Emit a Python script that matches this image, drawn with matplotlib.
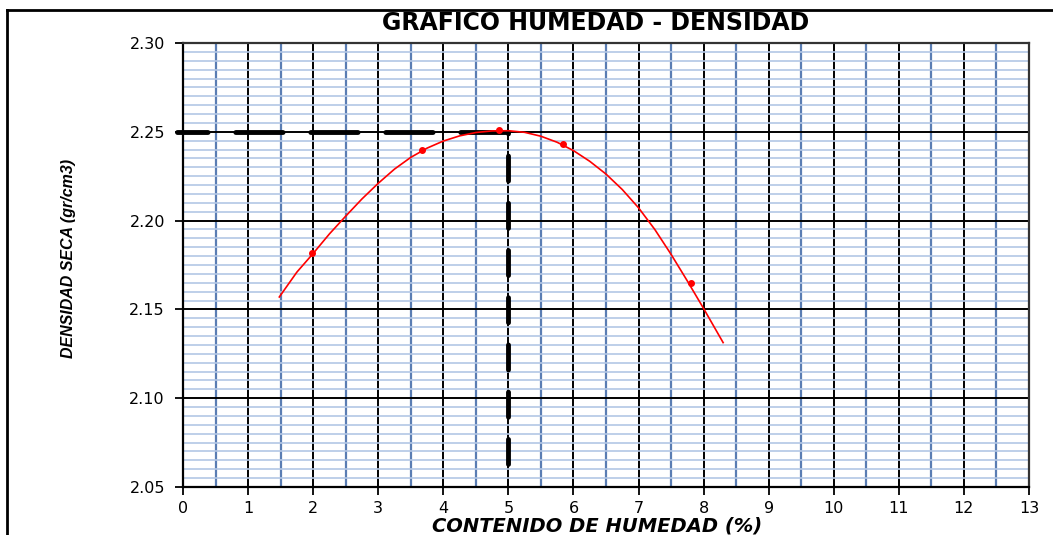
import matplotlib
matplotlib.use("Agg")
import matplotlib.pyplot as plt
from matplotlib.lines import Line2D
import numpy as np

# ensayo proctor: puntos medidos
humedad = [1.98, 3.67, 4.85, 5.84, 7.80]
densidad = [2.182, 2.240, 2.251, 2.243, 2.165]

# curva de ajuste
curva_x = [1.48, 1.75, 2.0, 2.25, 2.5, 2.75, 3.0, 3.25, 3.5, 3.75, 4.0, 4.25, 4.5, 4.75,
           5.0, 5.25, 5.5, 5.75, 6.0, 6.25, 6.5, 6.75, 7.0, 7.25, 7.5, 7.75, 8.0, 8.3]
curva_y = [2.1570, 2.1710, 2.1815, 2.1925, 2.2025, 2.2122, 2.2210, 2.2290, 2.2356, 2.2408,
           2.2448, 2.2477, 2.2496, 2.2505, 2.2506, 2.2497, 2.2475, 2.2441, 2.2394, 2.2334,
           2.2262, 2.2175, 2.2072, 2.1950, 2.1810, 2.1660, 2.1505, 2.1313]

dens_max = 2.25
hum_opt = 5.0

x_ticks = list(range(0, 14))
y_ticks = [2.05, 2.10, 2.15, 2.20, 2.25, 2.30]

plt.rcParams["font.family"] = ["DejaVu Sans"]
plt.rcParams["lines.scale_dashes"] = False

fig = plt.figure(figsize=(10.53, 5.35), dpi=100)
ax = fig.add_axes([183 / 1053, 48 / 535, 846 / 1053, 444 / 535])

# marco exterior
fig.add_artist(Line2D([7 / 1053, 1.0], [1 - 10 / 535, 1 - 10 / 535], transform=fig.transFigure,
                      color="black", lw=2))
fig.add_artist(Line2D([7 / 1053, 7 / 1053], [0.0, 1 - 10 / 535], transform=fig.transFigure,
                      color="black", lw=2))

ax.set_xlim(0, 13)
ax.set_ylim(2.05, 2.30)
ax.set_xticks(x_ticks)
ax.set_yticks(y_ticks)
ax.set_yticklabels(["%.2f" % v for v in y_ticks])
ax.set_xticks(np.arange(0.5, 13, 1.0), minor=True)
ax.set_yticks(np.arange(2.05, 2.3001, 0.005), minor=True)

ax.grid(which="minor", axis="y", color="#b3c7e5", lw=1.2, zorder=0)
ax.grid(which="minor", axis="x", color="#5a7db3", lw=1.6, zorder=0)
ax.grid(which="major", color="black", lw=1.4, zorder=1)
ax.set_axisbelow(True)

ax.tick_params(which="major", direction="out", length=6, width=1.3, labelsize=11.5)
ax.tick_params(axis="y", pad=7)
ax.tick_params(axis="x", pad=4)
ax.tick_params(which="minor", length=0)
for s in ["left", "bottom"]:
    ax.spines[s].set_linewidth(1.6)
for s in ["top", "right"]:
    ax.spines[s].set_linewidth(1.6)
    ax.spines[s].set_color("#333333")

# lineas de densidad maxima y humedad optima
ax.plot([-0.09, hum_opt], [dens_max, dens_max], color="black", lw=3.5,
        linestyle=(12, (34, 20)), dash_capstyle="round", clip_on=False, zorder=3)
ax.plot([hum_opt, hum_opt], [dens_max, 2.0586], color="black", lw=3.5,
        linestyle=(17, (18, 16)), dash_capstyle="round", zorder=3)

ax.plot(curva_x, curva_y, color="red", lw=1.2, zorder=4)
ax.plot(humedad, densidad, "o", color="red", ms=4, zorder=5)

fig.text(596 / 1053, 1 - 23 / 535, "GRAFICO HUMEDAD - DENSIDAD", ha="center", va="center",
         fontsize=17, fontweight="bold")
fig.text(68 / 1053, 1 - 258 / 535, "DENSIDAD SECA (gr/cm3)", ha="center", va="center",
         rotation=90, fontsize=11.5, fontweight="bold", fontstyle="italic",
         family=["Liberation Sans"])
fig.text(597 / 1053, 1 - 526 / 535, "CONTENIDO DE HUMEDAD (%)", ha="center", va="center",
         fontsize=14, fontweight="bold", fontstyle="italic")

fig.savefig("out.png", dpi=100)
